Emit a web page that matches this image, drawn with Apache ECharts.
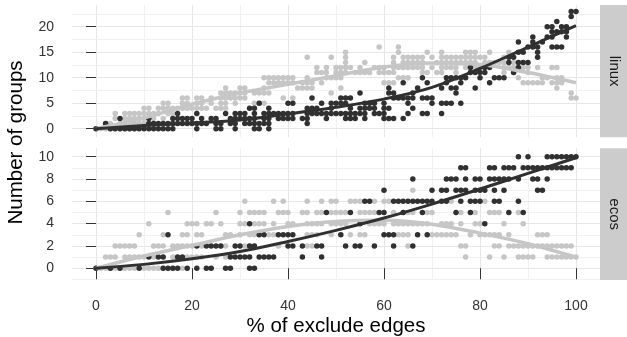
<!DOCTYPE html>
<html><head><meta charset="utf-8">
<script src="https://cdn.jsdelivr.net/npm/echarts@6/dist/echarts.min.js"></script>
<style>html,body{margin:0;padding:0;background:#fff}#c{width:627px;height:337px}</style>
</head><body><div id="c"></div>
<script>
// ---- data ----
const panels = ['linux', 'ecos'];
const xTicks = [0, 20, 40, 60, 80, 100];
const linuxYTicks = [0, 5, 10, 15, 20];
const ecosYTicks = [0, 2, 4, 6, 8, 10];
const xGridValues = [0, 10, 20, 30, 40, 50, 60, 70, 80, 90, 100];
const linuxYGrid = [0, 2.5, 5, 7.5, 10, 12.5, 15, 17.5, 20, 22.5];
const ecosYGrid = [-1, 0, 1, 2, 3, 4, 5, 6, 7, 8, 9, 10];

// points given as [y, [x values]]
const linuxLightRows = [
  [0, [0,1,2,3,4,5,6,7,8]],
  [1, [2,3,5,6,7,8,9,10,12]],
  [2, [4,6,7,8,9,10,11,12,14]],
  [3, [4,6,7,8,9,10,11,12,13,15,16]],
  [4, [10,11,13,14,15,16,17,18,19,20,21,22,23,25,26,27]],
  [5, [14,15,18,19,21,22,24,26,27,29,33,34,35]],
  [6, [18,19,21,22,24,26,27,28,29,30,31,39,41,99,100]],
  [7, [26,27,28,29,30,31,33,34,35,36,49,99]],
  [8, [27,30,31,35,42,43,44,45,51,96]],
  [9, [36,37,38,39,40,41,43,44,45,47,60,61,62,89,90,91,92,93,95,96,97]],
  [10, [35,36,37,38,39,40,41,44,48,49,50,51,63,64,65,88,93,94,96,97]],
  [11, [46,47,48,50,51,52,54,55,56,57,59,60,61,62,68,69,71,72,75,85,87,90]],
  [12, [46,48,50,51,52,53,55,58,59,60,62,63,64,65,66,67,68,70,72,73,74,75,77,78,79,80,81,85,86,87,89,90,92,95,96]],
  [13, [52,56,62,64,65,66,67,68,71,72,73,74,75,76,77,78,79,81,82,83,84,85,87,88,89]],
  [14, [44,49,52,62,64,65,66,67,68,70,72,73,74,75,76,77,78,79,80,81,85,86]],
  [15, [52,63,69,72,77,78,79,82,86]],
  [16, [59,63]]
];
const linuxDarkRows = [
  [0, [0,3,4,5,6,7,8,9,10,11,12,13,14,15,16,21,25,26,29,33,34,36]],
  [1, [2,11,12,13,14,15,16,17,18,19,20,21,22,23,25,26,28,29,31,32,33,34,35,36,44]],
  [2, [5,11,16,17,18,19,20,22,24,25,28,29,30,31,32,33,35,36,38,39,40,41,43,44,48,52,53,54,56,60,61,62,64]],
  [3, [17,21,27,29,30,31,33,35,36,37,38,39,40,41,44,45,46,47,48,49,50,51,52,53,54,55,56,58,59,60,65,68,69,72]],
  [4, [32,33,36,44,45,46,49,53,55,56,57,58,60,61,66]],
  [5, [34,40,41,47,49,50,51,52,56,57,58,60,65,70,72,73,74,76]],
  [6, [45,51,52,53,62,63,64,65,66,68,69,70]],
  [7, [55,61,62,66,75]],
  [8, [61,67,72,74,75,79]],
  [9, [64,69,73,76,82]],
  [10, [68,73,74,75,76,77,80,83,84,85]],
  [11, [78,79,80,81,87]],
  [12, [78,81,82,88]],
  [13, [86,88,89,90]],
  [14, [86,87,92]],
  [15, [88,89,92]],
  [16, [90,91,92,95,96,97]],
  [17, [88,91,93]],
  [18, [91,94,95,98]],
  [19, [95,96,97,98]],
  [20, [94,95,97,98]],
  [21, [96]],
  [22, [99]],
  [23, [99,100]]
];
const ecosLightRows = [
  [0, [0,1,2,3,4,5,6,7,8,10,11,12,13,14,16,18]],
  [1, [2,3,4,6,7,8,9,10,12,16,19,20,21,22,25,27,77,82,85,88,89,90,91,94,95,96,97,98,99,100]],
  [2, [4,5,6,7,8,12,13,14,16,17,18,19,20,22,26,27,31,32,33,38,44,45,65,76,77,83,84,86,87,88,89,90,91,92,93,94,95,96,97,98,99]],
  [3, [9,14,18,19,21,22,27,28,30,32,33,36,37,44,45,46,49,53,55,56,63,64,65,70,71,72,73,74,75,78,80,81,82,83,84,86,92,93,94]],
  [4, [11,19,20,21,23,24,26,30,31,33,34,35,37,40,41,44,45,46,47,49,50,51,52,57,58,59,60,62,63,64,65,66,67,68,69,72,73,74,76,79,80,85,89]],
  [5, [15,25,30,32,33,34,35,38,39,40,43,44,46,47,49,50,51,52,55,56,57,58,62,64,65,66,69,70,76,79,82,83,84,88]],
  [6, [31,37,39,44,47,49,50,53,54,55,58,60,61,74,81]],
  [7, [66]]
];
const ecosDarkRows = [
  [0, [0,3,5,9,14,15,16,17,19,21,23,24,27,28,32,33]],
  [1, [11,13,14,17,18,28,29,30,31,32,34,35,36,37,43,47]],
  [2, [21,23,24,25,26,29,30,32,33,40,41,43,46,47,52,54,55,58,62,66]],
  [3, [15,34,35,38,39,40,41,51,60,61,62,67,69]],
  [4, [32,55,81]],
  [5, [48,53,59,60,64,68,75,78,86,89]],
  [6, [56,57,62,63,64,65,66,67,68,69,70,72,73,76,78,79,80,83,84,88]],
  [7, [60,70,72,73,75,76,77,79,80,81,83,85,92,93]],
  [8, [66,73,74,75,77,79,80,82,83,84,85,86,88,91,92,94]],
  [9, [76,77,82,83,85,86,87,89,90,91,92,93,94,95,96,97,98,99]],
  [10, [88,90,94,95,96,97,98,99,100]]
];

// smoothed curves
const curveX = [0, 10, 20, 30, 40, 50, 60, 70, 80, 90, 100];
const linuxLightCurve = [0, 2.1, 4.8, 7.0, 8.7, 10.4, 12.1, 12.9, 12.6, 11.0, 9.0];
const linuxDarkCurve  = [0, 0.6, 1.1, 1.7, 2.9, 4.2, 5.8, 8.1, 11.8, 16.0, 20.2];
const ecosLightCurve  = [0, 1.1, 2.05, 3.0, 3.75, 4.2, 4.3, 3.95, 3.15, 2.2, 1.0];
const ecosDarkCurve   = [0, 0.35, 0.85, 1.5, 2.4, 3.4, 4.5, 5.75, 7.1, 8.5, 9.9];

// ---- build ----
const LIGHT = '#c6c6c6', DARK = '#303030';
const FONT = 'Liberation Sans, Arial, Helvetica, sans-serif';
function pts(rows) { const out = []; rows.forEach(([y, xs]) => xs.forEach(x => out.push([x, y]))); return out; }
function curve(ys) { return curveX.map((x, i) => [x, ys[i]]); }

const gridDefs = [
  { left: 72, top: 5, width: 528, height: 132.3 },
  { left: 72, top: 148.3, width: 528, height: 131.7 }
];
const yRanges = [[-1.69, 24.25], [-1.05, 10.75]];
const yTicks = [linuxYTicks, ecosYTicks];
const yGrids = [linuxYGrid, ecosYGrid];
const yMajorSets = [[0,5,10,15,20],[0,2,4,6,8,10]];
const xMajor = [0,20,40,60,80,100];

const xAxes = [0, 1].map(i => ({
  type: 'value', gridIndex: i, min: -5, max: 105,
  axisLine: { show: true, lineStyle: { color: 'rgba(0,0,0,0)' } }, splitLine: { show: false },
  axisTick: { show: i === 1, customValues: xTicks, length: 11, lineStyle: { color: '#333', width: 1 } },
  axisLabel: { show: i === 1, customValues: xTicks, margin: 19, color: '#333', fontSize: 14, fontFamily: FONT }
}));
const yAxes = [0, 1].map(i => ({
  type: 'value', gridIndex: i, min: yRanges[i][0], max: yRanges[i][1],
  axisLine: { show: true, lineStyle: { color: 'rgba(0,0,0,0)' } }, splitLine: { show: false },
  axisTick: { show: true, customValues: yTicks[i], length: 10, lineStyle: { color: '#333', width: 1 } },
  axisLabel: { customValues: yTicks[i], margin: 18, color: '#333', fontSize: 14, fontFamily: FONT }
}));

const series = [];
[[linuxLightRows, linuxDarkRows, linuxLightCurve, linuxDarkCurve],
 [ecosLightRows, ecosDarkRows, ecosLightCurve, ecosDarkCurve]].forEach((d, i) => {
  const mlData = [];
  xGridValues.forEach(v => mlData.push({ xAxis: v, lineStyle: { color: xMajor.includes(v) ? '#e6e6e6' : '#f1f1f1', width: 1, type: 'solid' } }));
  yGrids[i].forEach(v => mlData.push({ yAxis: v, lineStyle: { color: yMajorSets[i].includes(v) ? '#e6e6e6' : '#f1f1f1', width: 1, type: 'solid' } }));
  series.push({
    type: 'line', xAxisIndex: i, yAxisIndex: i, data: [], silent: true, z: 0,
    markLine: { silent: true, z: 0, zlevel: 0, symbol: 'none', label: { show: false }, animation: false, data: mlData }
  });
  series.push({ type: 'scatter', xAxisIndex: i, yAxisIndex: i, data: pts(d[0]), symbolSize: 5.5, itemStyle: { color: LIGHT, opacity: 1 }, z: 2, silent: true });
  series.push({ type: 'scatter', xAxisIndex: i, yAxisIndex: i, data: pts(d[1]), symbolSize: 5.5, itemStyle: { color: DARK, opacity: 1 }, z: 3, silent: true });
  series.push({ type: 'line', xAxisIndex: i, yAxisIndex: i, data: curve(d[2]), smooth: 0.35, showSymbol: false, lineStyle: { color: LIGHT, width: 3.5 }, z: 4, silent: true });
  series.push({ type: 'line', xAxisIndex: i, yAxisIndex: i, data: curve(d[3]), smooth: 0.35, showSymbol: false, lineStyle: { color: DARK, width: 3 }, z: 5, silent: true });
});

const graphic = [];
gridDefs.forEach((g, i) => {
  graphic.push({ type: 'rect', shape: { x: 600, y: g.top, width: 27, height: g.height }, style: { fill: '#cccccc' }, silent: true });
  graphic.push({ type: 'text', x: 614, y: g.top + g.height / 2, rotation: -Math.PI / 2,
    style: { text: panels[i], font: '15px ' + FONT, fill: '#1a1a1a', textAlign: 'center', textVerticalAlign: 'middle' }, silent: true });
});
graphic.push({ type: 'text', x: 16, y: 142.5, rotation: Math.PI / 2,
  style: { text: 'Number of groups', font: '20.5px ' + FONT, fill: '#000', textAlign: 'center', textVerticalAlign: 'middle' }, silent: true });
graphic.push({ type: 'text', x: 336, y: 326,
  style: { text: '% of exclude edges', font: '20.5px ' + FONT, fill: '#000', textAlign: 'center', textVerticalAlign: 'middle' }, silent: true });

const chart = echarts.init(document.getElementById('c'), null, { renderer: 'canvas' });
chart.setOption({
  animation: false,
  backgroundColor: '#ffffff',
  grid: gridDefs,
  xAxis: xAxes,
  yAxis: yAxes,
  series: series,
  graphic: graphic
});
</script>
</body></html>
